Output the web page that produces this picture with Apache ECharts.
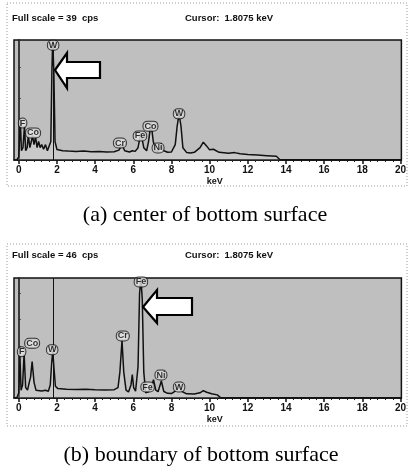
<!DOCTYPE html>
<html>
<head>
<meta charset="utf-8">
<script src="https://cdn.jsdelivr.net/npm/echarts@6/dist/echarts.min.js"></script>
<style>html,body{margin:0;padding:0;background:#fff;}#c{width:409px;height:466px;}</style>
</head>
<body>
<div id="c"></div>
<script>
// ---- Data ----
const tickValues = [0, 2, 4, 6, 8, 10, 12, 14, 16, 18, 20];
const minorTickValues = [0.4,0.8,1.2,1.6,2.4,2.8,3.2,3.6,4.4,4.8,5.2,5.6,6.4,6.8,7.2,7.6,8.4,8.8,9.2,9.6,10.4,10.8,11.2,11.6,12.4,12.8,13.2,13.6,14.4,14.8,15.2,15.6,16.4,16.8,17.2,17.6,18.4,18.8,19.2,19.6];
const cursorKeV = 1.8075;

// (a) center of bottom surface
const fullScaleA = 39;
const energyA = [-0.1,0.0,0.08,0.14,0.22,0.3,0.36,0.44,0.5,0.58,0.66,0.72,0.8,0.88,0.96,1.04,1.12,1.2,1.3,1.4,1.5,1.6,1.68,1.74,1.78,1.84,1.9,2.0,2.3,2.6,3.0,3.4,3.8,4.2,4.6,5.0,5.25,5.41,5.55,5.8,5.95,6.1,6.25,6.4,6.55,6.7,6.8,6.93,7.05,7.15,7.3,7.47,7.6,7.8,8.0,8.2,8.3,8.4,8.5,8.6,8.8,9.0,9.2,9.5,9.67,9.85,10.0,10.2,10.5,11.0,11.3,11.6,12.0,12.5,13.0,13.5,13.7,20.0];
const countsA = [0,1,13,3,4,11,3,4,8,4,6,8,5,7.5,4,6,4,5,3.5,5,3,2.5,6,30,39,28,6,3.4,3.0,2.9,2.8,2.9,2.7,2.8,2.6,2.7,3.2,5.0,3.0,2.6,3.0,2.8,4,9,4,3,6,12,6,3,2.8,4.5,3,2.5,2.6,5,11,15,11,4,2.4,2.3,2.5,4,5.8,4.5,3.3,3.5,2.5,2.2,2.4,2.0,1.8,1.6,1.4,1.2,0,0];
const peakNamesA = ['F','Co','W','Cr','Fe','Co','Ni','W'];
const peakKeVA = [0.2,0.75,1.8,5.3,6.35,6.9,7.3,8.4];
const peakLabelYA = [12,8.8,37.3,5.5,7.8,11,3.9,15];

// (b) boundary of bottom surface
const fullScaleB = 46;
const energyB = [-0.1,0.0,0.06,0.12,0.2,0.28,0.36,0.46,0.55,0.62,0.7,0.8,0.9,1.0,1.2,1.4,1.55,1.65,1.73,1.78,1.84,1.92,2.05,2.5,3.0,3.5,4.0,4.5,5.0,5.2,5.3,5.41,5.5,5.62,5.75,5.88,5.95,6.02,6.12,6.25,6.33,6.4,6.47,6.55,6.65,6.8,6.95,7.06,7.18,7.3,7.47,7.6,7.8,8.0,8.2,8.4,8.55,8.8,9.2,9.5,9.67,9.85,10.1,10.4,10.6,20.0];
const countsB = [0,2,16,3,5,17,4,3,6,8,14,6,3,3.5,2.7,3,2.6,5,14,18,12,4.5,3.6,3.4,3.3,3.4,3.2,3.1,3.2,4,10,22,10,3,2.3,5,9,4,2.6,12,40,46,38,10,2.0,2.4,4,7,3,2.4,6.5,2.5,1.8,1.7,2.6,5.5,2.5,1.6,1.5,2.0,2.8,2.2,1.6,1.2,0,0];
const peakNamesB = ['F','Co','W','Cr','Fe','Fe','Ni','W'];
const peakKeVB = [0.15,0.7,1.75,5.45,6.4,6.75,7.45,8.4];
const peakLabelYB = [17.7,21,18.5,23.8,44.5,4.2,8.8,4.2];

// ---- Chart ----
const chart = echarts.init(document.getElementById('c'), null, {renderer: 'canvas'});
const sans = 'Liberation Sans, Arial, sans-serif';
const serif = 'Liberation Serif, Times New Roman, serif';

function pairs(xs, ys) { return xs.map((x, i) => [x, ys[i]]); }
function labelData(names, xs, ys) { return names.map((n, i) => ({name: n, value: [xs[i], ys[i]]})); }

const grids = [
  {left: 14, top: 40, width: 390, height: 120},
  {left: 14, top: 278, width: 390, height: 120}
];

function xAxes(gi) {
  return [
    {
      type: 'value', gridIndex: gi, min: -0.25, max: 20.05,
      name: 'keV', nameLocation: 'middle', nameGap: 17,
      nameTextStyle: {fontFamily: sans, fontSize: 9, fontWeight: 'bold', color: '#111', padding: [0, 0, 0, 14]},
      axisLine: {show: true, lineStyle: {color: '#111', width: 1.5}},
      axisTick: {show: true, customValues: tickValues, length: 4, lineStyle: {color: '#111', width: 1.5}},
      axisLabel: {show: true, customValues: tickValues, fontFamily: sans, fontSize: 10, fontWeight: 'bold', color: '#111', margin: 5},
      splitLine: {show: false}
    },
    {
      type: 'value', gridIndex: gi, min: -0.25, max: 20.05, position: 'bottom',
      axisLine: {show: false},
      axisTick: {show: true, customValues: minorTickValues, length: 2, lineStyle: {color: '#222', width: 1}},
      axisLabel: {show: false},
      splitLine: {show: false}
    }
  ];
}

function yAxis(gi, maxV) {
  return {
    type: 'value', gridIndex: gi, min: 0, max: maxV,
    axisLine: {show: true, lineStyle: {color: '#111', width: 1.5}},
    axisTick: {show: true, inside: true, length: 2, lineStyle: {color: '#333'}},
    axisLabel: {show: false},
    splitLine: {show: false}
  };
}

function spectrum(gi, data) {
  return {
    type: 'line', xAxisIndex: gi * 2, yAxisIndex: gi, data: data,
    showSymbol: false, symbol: 'none', smooth: false, clip: true,
    lineStyle: {color: '#111', width: 1.5},
    areaStyle: {color: 'rgba(235,235,235,0.35)'},
    markLine: {
      silent: true, symbol: 'none', label: {show: false},
      lineStyle: {color: '#111', width: 1, type: 'solid'},
      data: [{xAxis: cursorKeV}]
    },
    z: 3
  };
}

function labels(gi, data) {
  return {
    type: 'scatter', xAxisIndex: gi * 2, yAxisIndex: gi, data: data,
    symbolSize: 1, itemStyle: {color: 'rgba(0,0,0,0)'},
    label: {
      show: true, position: 'inside', formatter: p => p.name,
      fontFamily: sans, fontSize: 9, fontWeight: 'bold', color: '#000',
      backgroundColor: '#e6e6e6', borderColor: '#111', borderWidth: 1,
      borderRadius: 4, padding: [0, 1, 0, 1]
    },
    z: 5
  };
}

const headerStyle = {fontFamily: sans, fontSize: 9.5, fontWeight: 'bold', fill: '#111'};

const option = {
  animation: false,
  backgroundColor: '#ffffff',
  grid: grids.map(g => Object.assign({show: true, backgroundColor: '#bfbfbf', borderColor: '#111', borderWidth: 1.5}, g)),
  xAxis: [...xAxes(0), ...xAxes(1)],
  yAxis: [yAxis(0, fullScaleA), yAxis(1, fullScaleB)],
  series: [
    spectrum(0, pairs(energyA, countsA)),
    spectrum(1, pairs(energyB, countsB)),
    labels(0, labelData(peakNamesA, peakKeVA, peakLabelYA)),
    labels(1, labelData(peakNamesB, peakKeVB, peakLabelYB))
  ],
  graphic: [
    {type: 'rect', shape: {x: 7, y: 3, width: 400, height: 183}, style: {fill: 'none', stroke: '#999', lineWidth: 1, lineDash: [1, 2]}, z: 1},
    {type: 'rect', shape: {x: 7, y: 244, width: 400, height: 182}, style: {fill: 'none', stroke: '#999', lineWidth: 1, lineDash: [1, 2]}, z: 1},
    {type: 'text', x: 12, y: 18, style: Object.assign({text: 'Full scale = ' + fullScaleA + '  cps', textVerticalAlign: 'middle'}, headerStyle), z: 10},
    {type: 'text', x: 185, y: 18, style: Object.assign({text: 'Cursor:  ' + cursorKeV.toFixed(4) + ' keV', textVerticalAlign: 'middle'}, headerStyle), z: 10},
    {type: 'text', x: 12, y: 255, style: Object.assign({text: 'Full scale = ' + fullScaleB + '  cps', textVerticalAlign: 'middle'}, headerStyle), z: 10},
    {type: 'text', x: 185, y: 255, style: Object.assign({text: 'Cursor:  ' + cursorKeV.toFixed(4) + ' keV', textVerticalAlign: 'middle'}, headerStyle), z: 10},
    {type: 'polygon', shape: {points: [[55,70],[67,53],[67,62],[100,62],[100,78],[67,78],[67,88]]}, style: {fill: '#fff', stroke: '#000', lineWidth: 2.2, lineJoin: 'miter'}, z: 20},
    {type: 'polygon', shape: {points: [[143,307],[157,290],[157,298],[192,298],[192,315],[157,315],[157,323]]}, style: {fill: '#fff', stroke: '#000', lineWidth: 2.2, lineJoin: 'miter'}, z: 20},
    {type: 'text', x: 205, y: 215, style: {text: '(a) center of bottom surface', fontFamily: serif, fontSize: 22, fill: '#000', textAlign: 'center', textVerticalAlign: 'middle'}, z: 10},
    {type: 'text', x: 201, y: 455, style: {text: '(b) boundary of bottom surface', fontFamily: serif, fontSize: 22, fill: '#000', textAlign: 'center', textVerticalAlign: 'middle'}, z: 10}
  ]
};
chart.setOption(option);
</script>
</body>
</html>
